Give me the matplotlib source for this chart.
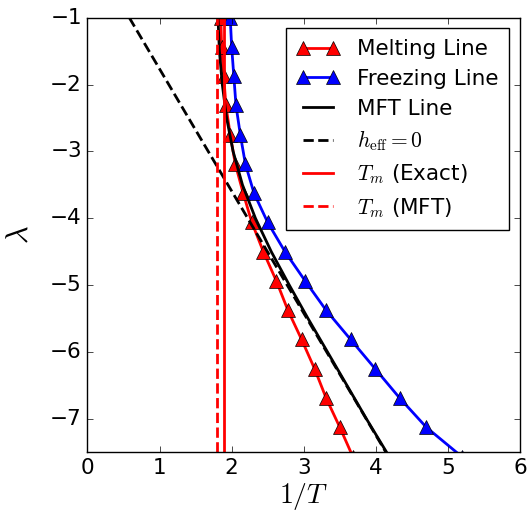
import numpy as np
import matplotlib
matplotlib.use('Agg')
from matplotlib import pyplot as plt

# values
lam = -1 - 0.4375 * np.arange(17)
melting_x = [1.85, 1.86, 1.89, 1.92, 1.98, 2.05, 2.16, 2.28, 2.44, 2.62,
             2.78, 2.97, 3.15, 3.31, 3.50, 3.68, 3.86]
freezing_x = [1.98, 2.00, 2.03, 2.06, 2.12, 2.19, 2.31, 2.50, 2.74, 3.02,
              3.31, 3.65, 3.99, 4.33, 4.70, 5.19, 5.65]

mft_lam = [-1.0, -1.5, -2.0, -2.5, -3.0, -3.5, -4.0, -4.5, -5.0, -5.5,
           -6.0, -6.5, -7.0, -7.5, -8.0]
mft_x = [1.81, 1.83, 1.87, 1.93, 2.02, 2.15, 2.33, 2.55, 2.80, 3.06,
         3.33, 3.60, 3.87, 4.15, 4.42]

heff_lam = [-1.0, -7.5]
heff_x = [0.58, 4.14]

tm_exact = 1.89
tm_mft = 1.79

plt.style.use('classic')
plt.rcParams['figure.facecolor'] = 'white'
plt.rcParams['savefig.facecolor'] = 'white'
plt.rcParams['mathtext.fontset'] = 'cm'
plt.rcParams['font.size'] = 15.5
plt.rcParams['lines.dashed_pattern'] = [3.7, 1.6]
plt.rcParams['lines.scale_dashes'] = True

fig = plt.figure(figsize=(5.29, 5.16))
fig.subplots_adjust(left=0.1654, right=0.983, top=0.9657, bottom=0.1234)
ax = fig.add_subplot(111)

ax.plot(melting_x, lam, '-^', color='r', lw=2, ms=9.5, mec='k', mew=0.5, label='Melting Line')
ax.plot(freezing_x, lam, '-^', color='b', lw=2, ms=9.5, mec='k', mew=0.5, label='Freezing Line')
ax.plot(mft_x, mft_lam, '-', color='k', lw=2, label='MFT Line')
ax.plot(heff_x, heff_lam, '--', color='k', lw=2, label=r'$h_{\rm eff}=0$')
ax.axvline(tm_exact, color='r', ls='-', lw=2, label=r'$T_m$ (Exact)')
ax.axvline(tm_mft, color='r', ls='--', lw=2, label=r'$T_m$ (MFT)')

ax.set_xlim(0, 6)
ax.set_ylim(-7.5, -1)
ax.set_xlabel(r'$1/T$', fontsize=20, labelpad=2)
ax.set_ylabel(r'$\lambda$', fontsize=22, labelpad=12)
ax.legend(loc='upper right', numpoints=2, labelspacing=0.45, borderpad=0.5,
          fontsize=15.5)

fig.savefig('out.png', dpi=100)
